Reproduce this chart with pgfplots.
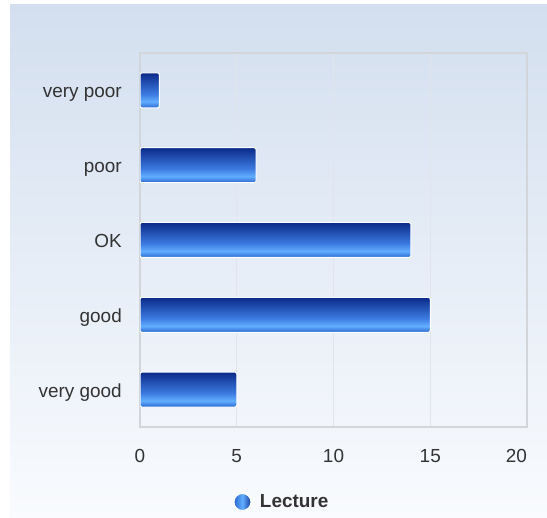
\documentclass[border=0pt]{standalone}
\usepackage{pgfplots}
\pgfplotsset{compat=1.18}
\usepackage{fontspec}
\setmainfont{Liberation Sans}
\definecolor{bgtop}{HTML}{D3DFEF}
\definecolor{bgbot}{HTML}{F9FBFE}
\definecolor{textgray}{HTML}{333333}
\definecolor{gridc}{HTML}{E0E5EC}
\definecolor{framec}{HTML}{D2D5DA}
\definecolor{bbot}{HTML}{2A66D0}
\definecolor{blight}{HTML}{62AEFF}
\definecolor{bmid}{HTML}{3C7AE0}
\definecolor{btop}{HTML}{0A2A88}
\pgfdeclareverticalshading{barshade}{100bp}{color(0bp)=(bbot); color(25bp)=(bbot); color(34bp)=(blight); color(45bp)=(bmid); color(75bp)=(btop); color(100bp)=(btop)}
\pgfplotsset{mybar/.style={xbar, bar width=35bp, bar shift=0pt, draw=white, line width=1bp, rounded corners=2bp, shade, shading=barshade}}
\begin{document}
\begin{tikzpicture}[x=1bp,y=1bp]
\useasboundingbox (0,0) rectangle (547,518);
\fill[white] (0,0) rectangle (547,518);
\shade[top color=bgtop, bottom color=bgbot] (10,0) rectangle (547,513);
\begin{axis}[
  at={(140bp,91bp)}, anchor=south west,
  scale only axis, width=387bp, height=374bp,
  xmin=0, xmax=20, ymin=-0.5, ymax=4.5,
  xtick={0,5,10,15,20},
  xticklabels={0,5,10,15,\makebox[0pt][r]{20}},
  ytick={0,1,2,3,4},
  yticklabels={very good,good,OK,poor,very poor},
  major tick length=0,
  xmajorgrids,
  major grid style={color=gridc, line width=1bp},
  axis line style={color=framec, line width=1.2bp},
  tick label style={font=\fontsize{19}{22}\selectfont, text=textgray},
  /pgf/number format/assume math mode=true,
  yticklabel style={inner sep=0pt, anchor=base east, xshift=-18bp, yshift=-7.5bp},
  xticklabel style={inner sep=0pt, anchor=north, yshift=-22bp},
  legend style={at={(0.366,-0.2005)}, anchor=center, draw=none, fill=none,
    font=\bfseries\fontsize{19}{22}\selectfont, text=textgray},
  legend image code/.code={\path (-9bp,0) (15bp,0);\shade[left color=bbot, right color=btop!70!bbot, middle color=blight] (0,0) circle (8.5bp);},
]
\addplot[mybar] coordinates {(1,4)};
\addlegendentry{Lecture}
\addplot[mybar, forget plot] coordinates {(6,3)};
\addplot[mybar, forget plot] coordinates {(14,2)};
\addplot[mybar, forget plot] coordinates {(15,1)};
\addplot[mybar, forget plot] coordinates {(5,0)};
\end{axis}
\end{tikzpicture}
\end{document}
